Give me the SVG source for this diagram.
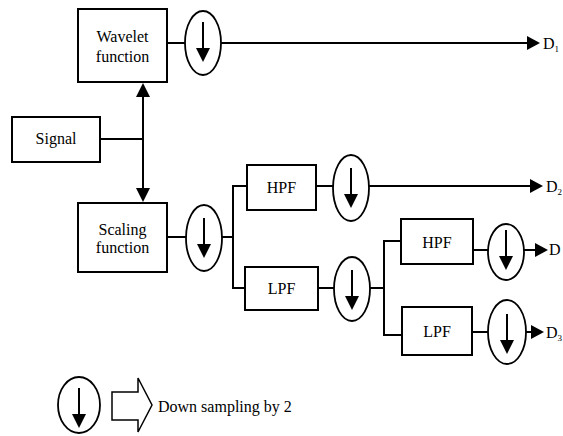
<svg xmlns="http://www.w3.org/2000/svg" width="563" height="436" viewBox="0 0 563 436">
<style>
.box{fill:#fff;stroke:#000;stroke-width:2}
.ds{fill:#fff;stroke:#000;stroke-width:1.8}
.ln{fill:none;stroke:#000;stroke-width:2}
.ah{fill:#000;stroke:none}
text{font-size:16px;fill:#000}
.c{text-anchor:middle}
.sub{font-size:9px}
</style>
<defs>
<marker id="arr" markerUnits="userSpaceOnUse" markerWidth="14" markerHeight="14" refX="0" refY="7" orient="auto">
<path d="M0,0 L13,7 L0,14 z" fill="#000"/>
</marker>
<g id="dsArrow">
<line x1="0" y1="-20" x2="0" y2="6" stroke="#000" stroke-width="2"/>
<path d="M-7,6 L7,6 L0,20 z" fill="#000"/>
</g>
</defs>
<g id="connectors">
<path class="ln" d="M167,43 H185"/>
<path class="ln" d="M221,43 H527" marker-end="url(#arr)"/>
<path class="ln" d="M100,139 H143"/>
<path class="ln" d="M143,96 V189"/>
<path class="ah" d="M136,97 L150,97 L143,83 z"/>
<path class="ah" d="M136,188 L150,188 L143,202 z"/>
<path class="ln" d="M167,237 H186"/>
<path class="ln" d="M222,237 H233"/>
<path class="ln" d="M247,186 H233 V288 H245"/>
<path class="ln" d="M316,186 H333"/>
<path class="ln" d="M369,186 H530" marker-end="url(#arr)"/>
<path class="ln" d="M318,288 H334"/>
<path class="ln" d="M370,288 H384"/>
<path class="ln" d="M401,241 H384 V335 H402"/>
<path class="ln" d="M473,250 H488"/>
<path class="ln" d="M524,250 H535" marker-end="url(#arr)"/>
<path class="ln" d="M472,332 H488"/>
<path class="ln" d="M526,332 H531" marker-end="url(#arr)"/>
</g>
<g font-family="'Liberation Serif', 'DejaVu Serif', serif">
<g id="wavelet">
<rect class="box" x="78" y="9" width="89" height="73"/>
<text class="c" x="122.5" y="42">Wavelet</text>
<text class="c" x="122.5" y="62">function</text>
</g>
<g id="signal">
<rect class="box" x="12" y="117" width="88" height="45"/>
<text class="c" x="56" y="144">Signal</text>
</g>
<g id="scaling">
<rect class="box" x="78" y="203" width="89" height="69"/>
<text class="c" x="122.5" y="235">Scaling</text>
<text class="c" x="122.5" y="253">function</text>
</g>
<g id="ds1">
<ellipse class="ds" cx="203" cy="43" rx="18" ry="32"/>
<use href="#dsArrow" x="203" y="42"/>
</g>
<g id="ds2">
<ellipse class="ds" cx="204" cy="238" rx="18" ry="33"/>
<use href="#dsArrow" x="204" y="238"/>
</g>
<g id="hpf1">
<rect class="box" x="247" y="165" width="69" height="45"/>
<text class="c" x="281.5" y="193">HPF</text>
</g>
<g id="lpf1">
<rect class="box" x="245" y="267" width="73" height="43"/>
<text class="c" x="281.5" y="294">LPF</text>
</g>
<g id="ds3">
<ellipse class="ds" cx="351" cy="188" rx="18" ry="33"/>
<use href="#dsArrow" x="351" y="188"/>
</g>
<g id="ds4">
<ellipse class="ds" cx="352" cy="289" rx="18" ry="32"/>
<use href="#dsArrow" x="352" y="290"/>
</g>
<g id="hpf2">
<rect class="box" x="401" y="219" width="72" height="45"/>
<text class="c" x="437" y="248">HPF</text>
</g>
<g id="lpf2">
<rect class="box" x="402" y="307" width="70" height="48"/>
<text class="c" x="437" y="337">LPF</text>
</g>
<g id="ds5">
<ellipse class="ds" cx="506" cy="252" rx="18" ry="28"/>
<use href="#dsArrow" x="506" y="250"/>
</g>
<g id="ds6">
<ellipse class="ds" cx="507" cy="332" rx="19" ry="32"/>
<use href="#dsArrow" x="507" y="334"/>
</g>
<g id="outputs">
<text x="543" y="49">D<tspan class="sub" dy="3">1</tspan></text>
<text x="546" y="192">D<tspan class="sub" dy="3">2</tspan></text>
<text x="549" y="255">D</text>
<text x="546" y="338">D<tspan class="sub" dy="3">3</tspan></text>
</g>
<g id="legend">
<ellipse class="ds" cx="79" cy="405" rx="21" ry="28"/>
<use href="#dsArrow" x="79" y="408"/>
<path d="M112,392 H138 V378 L152,405 L138,432 V420 H112 z" fill="#fff" stroke="#000" stroke-width="1.5"/>
<text x="158" y="412">Down sampling by 2</text>
</g>
</g>
</svg>
